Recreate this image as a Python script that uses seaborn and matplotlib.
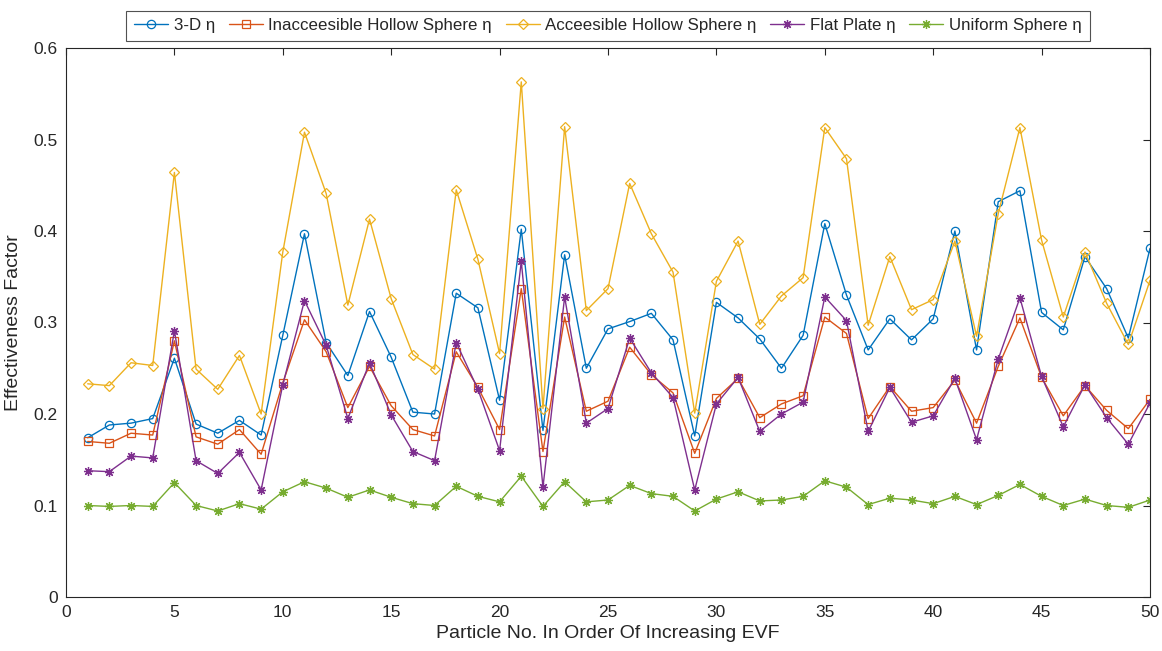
import numpy as np
import pandas as pd
import matplotlib
matplotlib.use("Agg")
import matplotlib.pyplot as plt
import seaborn as sns

particle_no = list(range(1, 51))

eta_3d = [0.174, 0.188, 0.190, 0.195, 0.261, 0.189, 0.179, 0.193, 0.177, 0.286,
          0.397, 0.278, 0.242, 0.312, 0.262, 0.202, 0.200, 0.332, 0.316, 0.215,
          0.402, 0.182, 0.374, 0.250, 0.293, 0.301, 0.310, 0.281, 0.176, 0.322,
          0.305, 0.282, 0.250, 0.286, 0.408, 0.330, 0.270, 0.304, 0.281, 0.304,
          0.400, 0.270, 0.432, 0.444, 0.311, 0.292, 0.372, 0.337, 0.283, 0.381]

eta_inaccessible = [0.170, 0.168, 0.179, 0.177, 0.280, 0.175, 0.167, 0.183, 0.156, 0.234,
                    0.303, 0.268, 0.207, 0.252, 0.209, 0.183, 0.176, 0.268, 0.229, 0.183,
                    0.337, 0.159, 0.306, 0.203, 0.214, 0.273, 0.243, 0.223, 0.157, 0.217,
                    0.239, 0.196, 0.211, 0.220, 0.306, 0.288, 0.195, 0.230, 0.203, 0.207,
                    0.237, 0.190, 0.252, 0.305, 0.240, 0.198, 0.231, 0.204, 0.184, 0.216]

eta_accessible = [0.233, 0.231, 0.256, 0.253, 0.464, 0.249, 0.227, 0.264, 0.200, 0.377,
                  0.508, 0.441, 0.319, 0.413, 0.326, 0.265, 0.249, 0.445, 0.369, 0.266,
                  0.563, 0.206, 0.514, 0.313, 0.337, 0.452, 0.397, 0.355, 0.201, 0.345,
                  0.389, 0.298, 0.329, 0.349, 0.513, 0.479, 0.297, 0.372, 0.314, 0.325,
                  0.389, 0.285, 0.419, 0.513, 0.390, 0.306, 0.377, 0.321, 0.276, 0.346]

eta_flat_plate = [0.138, 0.137, 0.154, 0.152, 0.291, 0.149, 0.135, 0.158, 0.117, 0.232,
                  0.324, 0.275, 0.195, 0.256, 0.199, 0.159, 0.149, 0.278, 0.227, 0.160,
                  0.367, 0.120, 0.328, 0.190, 0.206, 0.283, 0.245, 0.218, 0.117, 0.211,
                  0.240, 0.181, 0.200, 0.213, 0.328, 0.302, 0.181, 0.229, 0.191, 0.198,
                  0.239, 0.172, 0.260, 0.327, 0.241, 0.186, 0.232, 0.196, 0.167, 0.212]

eta_uniform = [0.100, 0.099, 0.100, 0.099, 0.125, 0.100, 0.094, 0.102, 0.096, 0.115,
               0.126, 0.119, 0.109, 0.117, 0.109, 0.102, 0.100, 0.121, 0.110, 0.104,
               0.132, 0.099, 0.126, 0.104, 0.106, 0.122, 0.113, 0.110, 0.094, 0.107,
               0.115, 0.105, 0.106, 0.110, 0.127, 0.120, 0.101, 0.108, 0.106, 0.102,
               0.110, 0.101, 0.111, 0.123, 0.110, 0.100, 0.107, 0.100, 0.098, 0.106]

series_names = ["3-D η", "Inacceesible Hollow Sphere η", "Acceesible Hollow Sphere η",
                "Flat Plate η", "Uniform Sphere η"]
series_values = [eta_3d, eta_inaccessible, eta_accessible, eta_flat_plate, eta_uniform]

x_ticks = list(range(0, 51, 5))
y_ticks = [0, 0.1, 0.2, 0.3, 0.4, 0.5, 0.6]
y_tick_labels = ["0", "0.1", "0.2", "0.3", "0.4", "0.5", "0.6"]

colors = ["#0072BD", "#D95319", "#EDB120", "#7E2F8E", "#77AC30"]
markers = ["o", "s", "D", (8, 2, 0), (8, 2, 0)]
marker_sizes = [6, 5.5, 5.5, 6.5, 6.5]

sns.set_theme(style="white")
plt.rcParams["font.family"] = ["Liberation Sans", "DejaVu Sans"]

fig = plt.figure(figsize=(11.62, 6.51), dpi=100)
ax = fig.add_axes([66 / 1162, 1 - 597 / 651, (1150 - 66) / 1162, (597 - 48) / 651])

for name, vals, col, mk, ms in zip(series_names, series_values, colors, markers, marker_sizes):
    df = pd.DataFrame({"Particle": particle_no, "Eta": vals})
    sns.lineplot(data=df, x="Particle", y="Eta", ax=ax, color=col, marker=mk,
                 markersize=ms, markerfacecolor="none", markeredgecolor=col,
                 markeredgewidth=0.9, linewidth=1.0, label=name)

ax.set_xlim(0, 50)
ax.set_ylim(0, 0.6)
ax.set_xticks(x_ticks)
ax.set_yticks(y_ticks)
ax.set_yticklabels(y_tick_labels)
ax.tick_params(axis="both", which="both", direction="in", length=5, width=0.8,
               colors="#262626", labelsize=12.5, top=True, right=True, pad=6)
for side in ["left", "right", "top", "bottom"]:
    ax.spines[side].set_color("#262626")
    ax.spines[side].set_linewidth(0.8)

ax.set_xlabel("Particle No. In Order Of Increasing EVF", fontsize=14, color="#262626", labelpad=3)
ax.set_ylabel("Effectiveness Factor", fontsize=14, color="#262626", labelpad=8)

leg = ax.legend(loc="lower center", bbox_to_anchor=(0.5, 1.013), ncol=5, frameon=True,
                fancybox=False, fontsize=12.2, handlelength=2.0, handletextpad=0.35,
                columnspacing=0.8, borderpad=0.45, borderaxespad=0.0)
leg.get_frame().set_edgecolor("#262626")
leg.get_frame().set_linewidth(0.8)

fig.savefig("out.png", dpi=100)
